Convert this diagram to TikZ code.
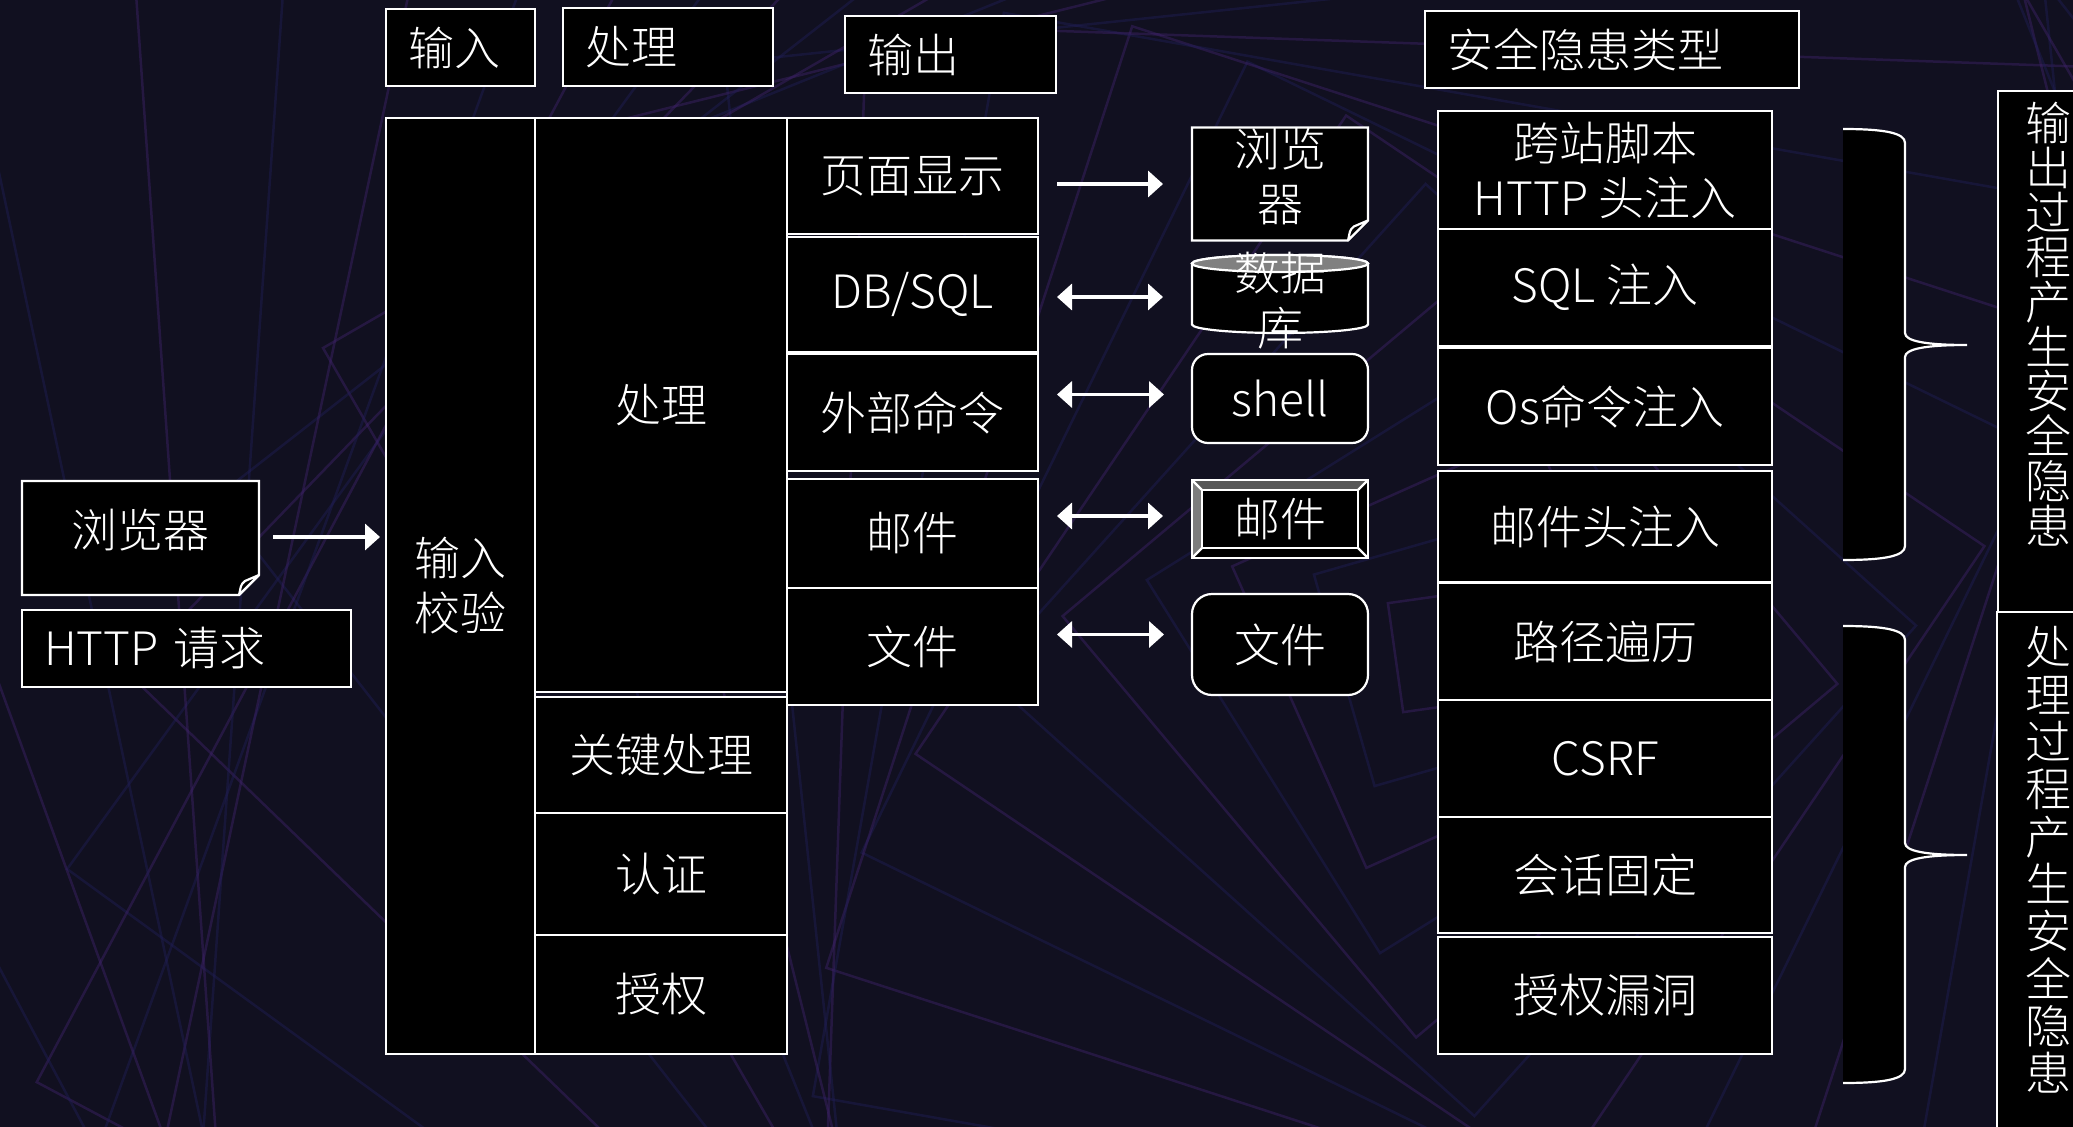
\documentclass[tikz,border=0pt]{standalone}
\usepackage{fontspec}
\newfontfamily\cjk{Noto Sans CJK SC Light}
\usetikzlibrary{arrows.meta,calc}
\pgfdeclarelayer{bg}
\pgfdeclarelayer{back}
\pgfsetlayers{bg,back,main}
\definecolor{bgcol}{RGB}{17,16,32}
\definecolor{lineA}{RGB}{62,34,106}
\definecolor{lineB}{RGB}{32,30,86}
\definecolor{bevtop}{RGB}{88,88,88}
\definecolor{bevleft}{RGB}{125,125,125}
\definecolor{dbtop}{RGB}{128,128,128}
\tikzset{
  wline/.style={white, line width=2.2pt},
  cell/.style={draw=white, fill=black, line width=2.2pt, text=white,
    font=\cjk\fontsize{46}{55}\selectfont, align=center, inner sep=0pt, outer sep=0pt},
  lcell/.style={cell, align=left, inner xsep=22pt, text width=#1},
  txt/.style={text=white, font=\cjk\fontsize{46}{55}\selectfont, align=center, inner sep=0pt, outer sep=0pt},
  arr/.style={white, line width=3.5pt, -{Triangle[length=15pt,width=26pt]}},
  darr/.style={white, line width=3.5pt, {Triangle[length=15pt,width=26pt]}-{Triangle[length=15pt,width=26pt]}},
}
\newcommand\docshape[1]{%
  \draw[wline, fill=black] (#1.north west) -- (#1.north east) -- ($(#1.south east)+(0,-4)$)
    -- ($(#1.south east)+(-20,16)$) -- ($(#1.south west)+(0,16)$) -- cycle;
  \draw[wline, fill=black, line join=round] ($(#1.south east)+(-20,16)$) .. controls +(2,-8) and +(-5,4) .. ($(#1.south east)+(-14,2)$)
    -- ($(#1.south east)+(0,-4)$) -- cycle;}
\newcommand\mybrace[3]{%
  \fill[black] (1843,#1) .. controls (1885,#1) and (1905,#1+4) .. (1905,#1+14) -- (1905,#2-12)
    .. controls (1905,#2-4) and (1925,#2) .. (1967,#2) .. controls (1925,#2) and (1905,#2+4) .. (1905,#2+12)
    -- (1905,#3-14) .. controls (1905,#3-4) and (1885,#3) .. (1843,#3) -- cycle;
  \draw[wline] (1843,#1) .. controls (1885,#1) and (1905,#1+4) .. (1905,#1+14) -- (1905,#2-12)
    .. controls (1905,#2-4) and (1925,#2) .. (1967,#2) .. controls (1925,#2) and (1905,#2+4) .. (1905,#2+12)
    -- (1905,#3-14) .. controls (1905,#3-4) and (1885,#3) .. (1843,#3);}
\begin{document}
\begin{tikzpicture}[x=1pt,y=-1pt]
\useasboundingbox (0,0) rectangle (2073,1127);
\clip (0,0) rectangle (2073,1127);
\begin{pgfonlayer}{bg}
  \fill[bgcol] (0,0) rectangle (2073,1127);
  \foreach \i in {1,...,36} {
    \pgfmathsetmacro\r{\i*55}
    \pgfmathsetmacro\ang{\i*8}
    \ifodd\i \def\lc{lineA}\else\def\lc{lineB}\fi
    \draw[\lc, line width=2.5pt, opacity=0.45, rotate around={\ang:(1450,650)}]
      ({1450-\r},{650-\r}) -- ({1450+\r},{650-\r}) -- ({1450+\r},{650+\r}) -- ({1450-\r},{650+\r}) -- cycle;
  }
\end{pgfonlayer}

% headers
\node[lcell=105pt, minimum width=149pt, minimum height=77pt] (hIn) at (460.5,47.5) {输入};
\node[lcell=166pt, minimum width=210pt, minimum height=78pt] (hProc) at (668,47) {处理};
\node[lcell=167pt, minimum width=211pt, minimum height=77pt] (hOut) at (950.5,54.5) {输出};
\node[lcell=329pt, minimum width=374pt, minimum height=77pt] (hRisk) at (1612,49.5) {安全隐患类型};

% main table
\node[cell, minimum width=149pt, minimum height=936pt] (inVal) at (460.5,586) {输入\\校验};
\node[cell, minimum width=252pt, minimum height=574pt] (proc) at (661,405) {处理};
\node[cell, minimum width=252pt, minimum height=116pt] (key) at (661,755) {关键处理};
\node[cell, minimum width=252pt, minimum height=122pt] (authn) at (661,874) {认证};
\node[cell, minimum width=252pt, minimum height=119pt] (authz) at (661,994.5) {授权};
\node[cell, minimum width=251pt, minimum height=116pt] (o1) at (912.5,176) {页面显示};
\node[cell, minimum width=251pt, minimum height=115pt] (o2) at (912.5,294.5) {DB/SQL};
\node[cell, minimum width=251pt, minimum height=117pt] (o3) at (912.5,412.5) {外部命令};
\node[cell, minimum width=251pt, minimum height=109pt] (o4) at (912.5,533.5) {邮件};
\node[cell, minimum width=251pt, minimum height=117pt] (o5) at (912.5,646.5) {文件};

% left
\node[txt, minimum width=237pt, minimum height=98pt] (br1) at (140.5,530) {浏览器};
\node[lcell=285pt, minimum width=329pt, minimum height=77pt] (http) at (186.5,648.5) {HTTP 请求};

% middle column
\node[txt, minimum width=176pt, minimum height=96pt] (b2) at (1280,176) {浏览\\器};
\node[txt, minimum width=176pt, minimum height=83pt] (db) at (1280,301) {数据\\库};
\node[cell, rounded corners=16pt, minimum width=176pt, minimum height=89pt] (sh) at (1280,398.5) {shell};
\node[txt, minimum width=176pt, minimum height=78pt] (m2) at (1280,519) {邮件};
\node[cell, rounded corners=20pt, minimum width=176pt, minimum height=101pt] (f2) at (1280,644.5) {文件};

\begin{pgfonlayer}{back}
  \docshape{br1}
  \docshape{b2}
  % database cylinder
  \draw[wline, fill=black] (1192,263.5) -- (1192,324.5)
    arc[start angle=180, end angle=360, x radius=88pt, y radius=8.5pt] -- (1368,263.5)
    arc[start angle=0, end angle=180, x radius=88pt, y radius=8.5pt] -- cycle;
  \draw[wline, fill=dbtop] (1280,263.5) ellipse[x radius=88pt, y radius=8.5pt];
  % bevel mail
  \draw[wline, fill=black] (m2.north west) rectangle (m2.south east);
  \fill[bevtop] (m2.north west) -- (m2.north east) -- ($(m2.north east)+(-10,10)$) -- ($(m2.north west)+(10,10)$) -- cycle;
  \fill[bevleft] (m2.north west) -- ($(m2.north west)+(10,10)$) -- ($(m2.south west)+(10,-10)$) -- (m2.south west) -- cycle;
  \draw[wline] (m2.north west) rectangle (m2.south east);
  \draw[wline] ($(m2.north west)+(10,10)$) rectangle ($(m2.south east)+(-10,-10)$);
  \draw[wline] (m2.north west) -- ($(m2.north west)+(10,10)$);
  \draw[wline] (m2.north east) -- ($(m2.north east)+(-10,10)$);
  \draw[wline] (m2.south west) -- ($(m2.south west)+(10,-10)$);
  \draw[wline] (m2.south east) -- ($(m2.south east)+(-10,-10)$);
\end{pgfonlayer}

% right list
\node[cell, minimum width=334pt, minimum height=118pt] (r1) at (1605,170) {跨站脚本\\HTTP 头注入};
\node[cell, minimum width=334pt, minimum height=117pt] (r2) at (1605,287.5) {SQL 注入};
\node[cell, minimum width=334pt, minimum height=117pt] (r3) at (1605,406.5) {Os命令注入};
\node[cell, minimum width=334pt, minimum height=111pt] (r4) at (1605,526.5) {邮件头注入};
\node[cell, minimum width=334pt, minimum height=117pt] (r5) at (1605,641.5) {路径遍历};
\node[cell, minimum width=334pt, minimum height=117pt] (r6) at (1605,758.5) {CSRF};
\node[cell, minimum width=334pt, minimum height=116pt] (r7) at (1605,875) {会话固定};
\node[cell, minimum width=334pt, minimum height=117pt] (r8) at (1605,995.5) {授权漏洞};

% braces
\mybrace{129}{345}{560}
\mybrace{626}{855}{1083}

% vertical boxes
\node[cell, minimum width=102pt, minimum height=521pt] (v1) at (2049,351.5) {};
\node[cell, minimum width=104pt, minimum height=528pt] (v2) at (2049,876) {};
\node[txt, font=\cjk\fontsize{46}{44.7}\selectfont] (v1t) at (2048,324) {输\\出\\过\\程\\产\\生\\安\\全\\隐\\患};
\node[txt, font=\cjk\fontsize{46}{47.3}\selectfont] (v2t) at (2048,860) {处\\理\\过\\程\\产\\生\\安\\全\\隐\\患};

% arrow anchor points
\coordinate (a0) at ($(br1.east)+(0,7)$);
\coordinate (a1) at ($(b2.west)+(0,8)$);
\coordinate (a2) at ($(db.west)+(0,-4)$);
\coordinate (a3) at ($(sh.west)+(0,-4)$);
\coordinate (a4) at ($(m2.west)+(0,-3)$);
\coordinate (a5) at ($(f2.west)+(0,-10)$);
% arrows
\draw[arr, shorten <=14pt, shorten >=6pt] (a0) -- (a0 -| inVal.west);
\draw[arr, shorten <=19pt, shorten >=29pt] (a1 -| o1.east) -- (a1);
\draw[darr, shorten <=19pt, shorten >=29pt] (a2 -| o2.east) -- (a2);
\draw[darr, shorten <=19pt, shorten >=28pt] (a3 -| o3.east) -- (a3);
\draw[darr, shorten <=19pt, shorten >=29pt] (a4 -| o4.east) -- (a4);
\draw[darr, shorten <=19pt, shorten >=28pt] (a5 -| o5.east) -- (a5);
\end{tikzpicture}
\end{document}
